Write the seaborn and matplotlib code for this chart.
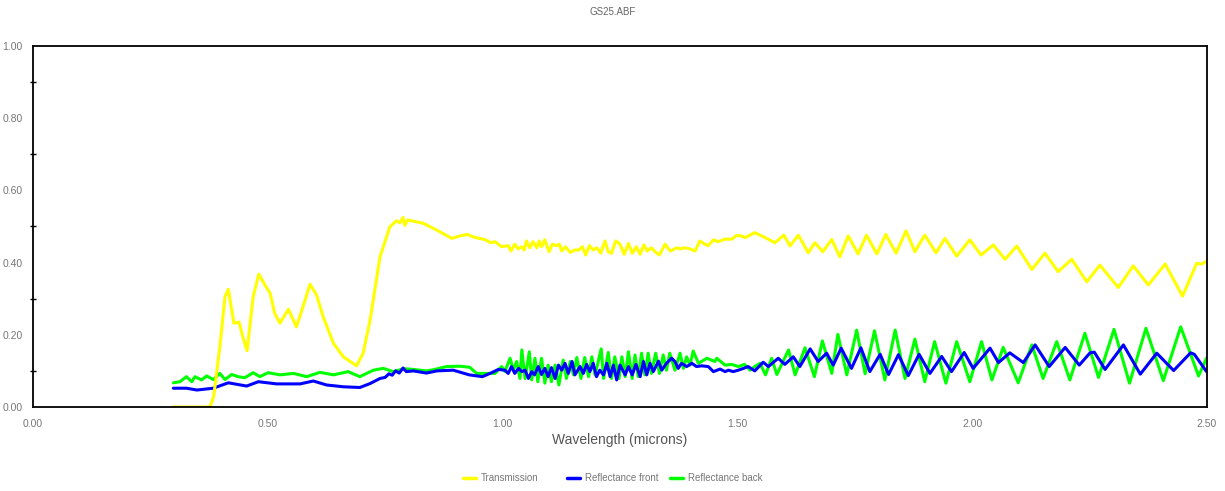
import numpy as np
import pandas as pd
import matplotlib
matplotlib.use("Agg")
import matplotlib.pyplot as plt
from matplotlib.ticker import MultipleLocator, FormatStrFormatter
from matplotlib.lines import Line2D
import seaborn as sns

# -------- DATA --------
trans_wl = [0.299, 0.377, 0.385, 0.398, 0.409, 0.416, 0.428, 0.439, 0.447, 0.456,
            0.469, 0.481, 0.494, 0.505, 0.515, 0.526, 0.544, 0.561, 0.575, 0.590,
            0.604, 0.618, 0.640, 0.661, 0.689, 0.703, 0.718, 0.739, 0.760, 0.774,
            0.781, 0.788, 0.792, 0.798, 0.831, 0.860, 0.892, 0.909, 0.925, 0.940,
            0.962, 0.975, 0.984, 0.998, 1.012, 1.018, 1.026, 1.033, 1.041, 1.046,
            1.051, 1.058, 1.065, 1.073, 1.078, 1.083, 1.090, 1.099, 1.106, 1.115,
            1.121, 1.126, 1.134, 1.144, 1.154, 1.163, 1.170, 1.177, 1.185, 1.193,
            1.201, 1.209, 1.218, 1.225, 1.232, 1.241, 1.250, 1.259, 1.268, 1.276,
            1.285, 1.293, 1.301, 1.308, 1.317, 1.325, 1.334, 1.346, 1.357, 1.371,
            1.378, 1.388, 1.399, 1.410, 1.420, 1.431, 1.438, 1.449, 1.459, 1.474,
            1.488, 1.498, 1.509, 1.516, 1.537, 1.558, 1.580, 1.599, 1.612, 1.630,
            1.651, 1.665, 1.682, 1.701, 1.718, 1.736, 1.757, 1.775, 1.797, 1.816,
            1.838, 1.859, 1.878, 1.899, 1.923, 1.942, 1.967, 1.995, 2.019, 2.045,
            2.070, 2.095, 2.127, 2.155, 2.183, 2.212, 2.244, 2.272, 2.311, 2.343,
            2.375, 2.411, 2.448, 2.478, 2.488, 2.499]
trans_val = [0.000, 0.000, 0.030, 0.167, 0.306, 0.326, 0.232, 0.235, 0.194, 0.156,
             0.306, 0.368, 0.338, 0.315, 0.259, 0.232, 0.271, 0.222, 0.278, 0.340,
             0.310, 0.250, 0.176, 0.139, 0.114, 0.149, 0.241, 0.416, 0.499, 0.516,
             0.510, 0.525, 0.503, 0.518, 0.509, 0.490, 0.467, 0.474, 0.478, 0.470,
             0.464, 0.455, 0.458, 0.444, 0.447, 0.432, 0.451, 0.438, 0.444, 0.435,
             0.460, 0.441, 0.458, 0.441, 0.460, 0.444, 0.463, 0.430, 0.451, 0.447,
             0.451, 0.432, 0.444, 0.428, 0.435, 0.435, 0.444, 0.421, 0.447, 0.435,
             0.441, 0.426, 0.460, 0.430, 0.426, 0.460, 0.451, 0.423, 0.453, 0.426,
             0.444, 0.423, 0.449, 0.432, 0.441, 0.430, 0.421, 0.451, 0.432, 0.441,
             0.438, 0.441, 0.438, 0.432, 0.460, 0.451, 0.447, 0.463, 0.458, 0.465,
             0.465, 0.475, 0.474, 0.469, 0.483, 0.470, 0.455, 0.476, 0.446, 0.476,
             0.427, 0.455, 0.430, 0.464, 0.416, 0.474, 0.424, 0.476, 0.424, 0.478,
             0.426, 0.488, 0.430, 0.476, 0.427, 0.467, 0.418, 0.463, 0.421, 0.449,
             0.409, 0.446, 0.381, 0.426, 0.375, 0.409, 0.347, 0.393, 0.331, 0.391,
             0.338, 0.396, 0.307, 0.398, 0.396, 0.403]

front_wl = [0.299, 0.327, 0.349, 0.384, 0.416, 0.455, 0.480, 0.519, 0.569, 0.597,
            0.625, 0.661, 0.696, 0.718, 0.739, 0.750, 0.758, 0.765, 0.772, 0.780,
            0.788, 0.795, 0.810, 0.838, 0.860, 0.895, 0.929, 0.957, 0.975, 0.991,
            1.005, 1.012, 1.019, 1.026, 1.034, 1.041, 1.048, 1.055, 1.062, 1.068,
            1.076, 1.083, 1.090, 1.097, 1.104, 1.112, 1.119, 1.126, 1.133, 1.140,
            1.148, 1.154, 1.165, 1.172, 1.179, 1.186, 1.193, 1.200, 1.207, 1.215,
            1.222, 1.229, 1.236, 1.243, 1.250, 1.261, 1.268, 1.276, 1.284, 1.293,
            1.300, 1.307, 1.314, 1.321, 1.332, 1.339, 1.349, 1.360, 1.367, 1.374,
            1.381, 1.392, 1.403, 1.413, 1.424, 1.438, 1.449, 1.463, 1.474, 1.481,
            1.491, 1.502, 1.513, 1.523, 1.537, 1.555, 1.566, 1.587, 1.601, 1.619,
            1.633, 1.655, 1.672, 1.690, 1.704, 1.721, 1.743, 1.763, 1.782, 1.804,
            1.822, 1.843, 1.864, 1.887, 1.910, 1.935, 1.956, 1.983, 2.002, 2.038,
            2.056, 2.080, 2.109, 2.134, 2.164, 2.198, 2.228, 2.251, 2.260, 2.283,
            2.322, 2.358, 2.393, 2.429, 2.465, 2.473, 2.499]
front_val = [0.052, 0.052, 0.047, 0.052, 0.067, 0.058, 0.070, 0.064, 0.064, 0.072,
             0.061, 0.056, 0.054, 0.065, 0.079, 0.082, 0.092, 0.088, 0.100, 0.094,
             0.108, 0.098, 0.100, 0.094, 0.100, 0.102, 0.089, 0.084, 0.094, 0.104,
             0.102, 0.093, 0.112, 0.093, 0.107, 0.098, 0.102, 0.079, 0.098, 0.089,
             0.112, 0.090, 0.107, 0.084, 0.109, 0.079, 0.116, 0.102, 0.121, 0.093,
             0.126, 0.089, 0.112, 0.093, 0.118, 0.098, 0.121, 0.084, 0.102, 0.089,
             0.121, 0.084, 0.116, 0.075, 0.116, 0.089, 0.112, 0.089, 0.118, 0.084,
             0.126, 0.089, 0.121, 0.098, 0.127, 0.102, 0.121, 0.135, 0.126, 0.107,
             0.121, 0.112, 0.121, 0.112, 0.114, 0.112, 0.098, 0.105, 0.098, 0.102,
             0.098, 0.102, 0.107, 0.112, 0.100, 0.124, 0.112, 0.135, 0.118, 0.139,
             0.112, 0.161, 0.126, 0.149, 0.116, 0.163, 0.107, 0.164, 0.098, 0.146,
             0.090, 0.145, 0.087, 0.146, 0.093, 0.140, 0.098, 0.151, 0.107, 0.163,
             0.123, 0.150, 0.123, 0.172, 0.112, 0.165, 0.116, 0.150, 0.152, 0.104,
             0.172, 0.091, 0.149, 0.101, 0.150, 0.146, 0.098]

back_wl = [0.299, 0.313, 0.327, 0.338, 0.345, 0.359, 0.370, 0.384, 0.398, 0.409,
           0.423, 0.437, 0.451, 0.469, 0.483, 0.501, 0.526, 0.555, 0.583, 0.611,
           0.640, 0.671, 0.696, 0.725, 0.746, 0.767, 0.790, 0.810, 0.838, 0.852,
           0.881, 0.909, 0.930, 0.945, 0.966, 0.984, 0.998, 1.005, 1.016, 1.023,
           1.030, 1.037, 1.041, 1.048, 1.057, 1.062, 1.069, 1.075, 1.083, 1.090,
           1.097, 1.104, 1.112, 1.120, 1.129, 1.136, 1.144, 1.151, 1.158, 1.167,
           1.175, 1.183, 1.190, 1.197, 1.210, 1.215, 1.225, 1.232, 1.239, 1.248,
           1.254, 1.261, 1.268, 1.276, 1.282, 1.289, 1.296, 1.303, 1.310, 1.317,
           1.326, 1.334, 1.342, 1.349, 1.356, 1.367, 1.378, 1.385, 1.392, 1.399,
           1.406, 1.417, 1.435, 1.452, 1.456, 1.474, 1.488, 1.502, 1.515, 1.527,
           1.537, 1.548, 1.560, 1.573, 1.584, 1.609, 1.623, 1.644, 1.664, 1.681,
           1.701, 1.714, 1.733, 1.754, 1.772, 1.792, 1.814, 1.836, 1.857, 1.878,
           1.899, 1.920, 1.944, 1.967, 1.995, 2.020, 2.042, 2.066, 2.098, 2.127,
           2.151, 2.180, 2.208, 2.240, 2.269, 2.302, 2.335, 2.370, 2.407, 2.444,
           2.482, 2.499]
back_val = [0.067, 0.070, 0.084, 0.070, 0.084, 0.075, 0.086, 0.076, 0.093, 0.076,
            0.090, 0.084, 0.081, 0.095, 0.084, 0.095, 0.089, 0.093, 0.084, 0.096,
            0.089, 0.098, 0.084, 0.102, 0.107, 0.098, 0.106, 0.104, 0.100, 0.103,
            0.112, 0.113, 0.110, 0.093, 0.093, 0.093, 0.112, 0.098, 0.135, 0.102,
            0.126, 0.079, 0.158, 0.079, 0.153, 0.075, 0.135, 0.070, 0.135, 0.066,
            0.116, 0.070, 0.116, 0.061, 0.130, 0.079, 0.126, 0.089, 0.137, 0.079,
            0.137, 0.084, 0.139, 0.089, 0.161, 0.079, 0.151, 0.079, 0.139, 0.079,
            0.139, 0.084, 0.153, 0.079, 0.144, 0.084, 0.149, 0.089, 0.149, 0.093,
            0.149, 0.093, 0.144, 0.102, 0.149, 0.102, 0.149, 0.107, 0.139, 0.116,
            0.155, 0.121, 0.135, 0.126, 0.135, 0.116, 0.118, 0.112, 0.118, 0.102,
            0.112, 0.121, 0.089, 0.135, 0.090, 0.158, 0.089, 0.164, 0.084, 0.183,
            0.093, 0.201, 0.089, 0.213, 0.092, 0.211, 0.075, 0.213, 0.079, 0.188,
            0.070, 0.181, 0.066, 0.181, 0.070, 0.181, 0.075, 0.165, 0.067, 0.172,
            0.079, 0.181, 0.075, 0.204, 0.082, 0.215, 0.066, 0.218, 0.073, 0.222,
            0.086, 0.135]

series_names = ["Transmission", "Reflectance front", "Reflectance back"]
series_colors = ["#FFFF00", "#0000FF", "#00FF00"]

x_ticks = [0.0, 0.5, 1.0, 1.5, 2.0, 2.5]

# -------- BUILD LONG TABLE --------
df = pd.concat([
    pd.DataFrame({"wl": trans_wl, "val": trans_val, "series": series_names[0]}),
    pd.DataFrame({"wl": front_wl, "val": front_val, "series": series_names[1]}),
    pd.DataFrame({"wl": back_wl, "val": back_val, "series": series_names[2]}),
], ignore_index=True)

# -------- PLOT --------
sns.set_style("white")
plt.rcParams["font.family"] = ["Liberation Sans", "DejaVu Sans"]

fig = plt.figure(figsize=(12.25, 4.91), dpi=100)
ax = fig.add_axes([0.0269, 0.1711, 0.9584, 0.7352])

# draw back first, then front, then transmission on top
for i in [2, 1, 0]:
    sub = df[df["series"] == series_names[i]]
    sns.lineplot(data=sub, x="wl", y="val", color=series_colors[i], lw=2.2,
                 estimator=None, sort=False, ax=ax, legend=False)

ax.set_xlim(0, 2.5)
ax.set_ylim(0, 1.0)
ax.set_xticks(x_ticks)
ax.xaxis.set_major_formatter(FormatStrFormatter("%.2f"))
ax.yaxis.set_major_locator(MultipleLocator(0.2))
ax.yaxis.set_minor_locator(MultipleLocator(0.1))
ax.yaxis.set_major_formatter(FormatStrFormatter("%.2f"))

ax.tick_params(axis="both", which="major", direction="inout", length=7, width=1,
               color="black", labelsize=7.5, labelcolor="#777777", pad=4)
ax.tick_params(axis="y", which="minor", direction="inout", length=5, width=1,
               color="black", left=True)
ax.tick_params(axis="x", which="major", pad=5)

for side in ["left", "bottom", "top", "right"]:
    ax.spines[side].set_visible(True)
    ax.spines[side].set_color("black")
    ax.spines[side].set_linewidth(1.3)

ax.set_xlabel("Wavelength (microns)", fontsize=10, color="#555555", labelpad=3)
ax.set_ylabel("")

fig.text(0.5, 0.975, "GS25.ABF", ha="center", va="center", fontsize=7,
         color="#666666")

# legend items sit at fixed spacing along the bottom
legend_x = [463 / 1225, 567 / 1225, 670 / 1225]
for name, color, lx in zip(series_names, series_colors, legend_x):
    fig.legend([Line2D([0], [0], color=color, lw=2.5)], [name],
               loc="center left", bbox_to_anchor=(lx, 0.0265),
               frameon=False, fontsize=7, handlelength=1.3,
               handletextpad=0.55, borderpad=0, borderaxespad=0,
               labelcolor="#777777")

fig.savefig("out.png", dpi=100)
plt.close(fig)
